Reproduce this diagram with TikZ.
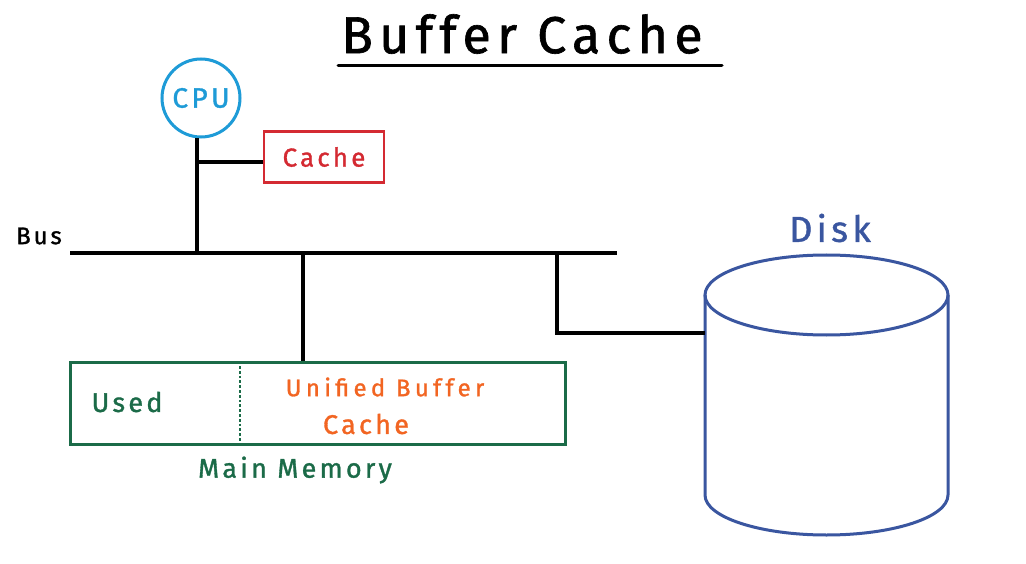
\documentclass[tikz,border=0pt]{standalone}
\usepackage{fontspec}
\setmainfont{Fira Sans}[LetterSpace=12,FakeBold=1.2]
\definecolor{cpublue}{HTML}{1E9BD7}
\definecolor{cachered}{HTML}{D42A32}
\definecolor{memgreen}{HTML}{1B6B48}
\definecolor{ubcorange}{HTML}{F26522}
\definecolor{diskblue}{HTML}{3A56A0}
\begin{document}
\begin{tikzpicture}[x=1pt,y=-1pt,
  wire/.style={line width=3.8pt,black},
  lbl/.style={inner sep=0pt,anchor=center}]
\useasboundingbox (0,0) rectangle (1026,564);
\fill[white] (0,0) rectangle (1026,564);
% title
\node[lbl,font=\fontsize{52}{52}\selectfont] (title) at (522,34) {Buffer Cache};
\coordinate (ul1) at (338,66);
\coordinate (ul2) at (722,66);
\draw[line width=3pt,line cap=round] (ul1) -- (ul2);
% CPU
\node[circle,draw=cpublue,line width=3pt,minimum size=78pt,inner sep=0pt,text=cpublue,font=\fontsize{28}{28}\selectfont] (cpu) at (201,98) {CPU};
% cache
\node[draw=cachered,line width=2.5pt,minimum width=120pt,minimum height=51pt,inner sep=0pt,text=cachered,font=\fontsize{26}{26}\selectfont] (cache) at (324,157) {Cache};
% bus
\node[lbl,font=\fontsize{24}{24}\selectfont,anchor=west] (buslbl) at (16,236) {Bus};
\coordinate (busL) at (70,253);
\coordinate (busR) at (617,253);
\draw[wire] (busL) -- (busR);
\coordinate (cpuBus) at (197,253);
\coordinate (cpuJ) at (197,162);
\draw[wire] (cpu.south -| cpuBus) -- (cpuBus);
\draw[wire] (cpuJ) -- (cpuJ -| cache.west);
% memory
\node[draw=memgreen,line width=3pt,minimum width=495pt,minimum height=82pt,inner sep=0pt] (mem) at (317.5,403) {};
\coordinate (memBus) at (303,253);
\draw[wire] (memBus) -- (memBus |- mem.north);
\coordinate (div1) at (240,366);
\coordinate (div2) at (240,441);
\draw[memgreen,line width=2.8pt,dotted] (div1) -- (div2);
\node[lbl,text=memgreen,font=\fontsize{27}{27}\selectfont] (used) at (127,402) {Used};
\node[lbl,text=ubcorange,font=\fontsize{24}{24}\selectfont\addfontfeatures{LetterSpace=18}] (ubc1) at (385,387) {Unified Buffer};
\node[lbl,text=ubcorange,font=\fontsize{27}{27}\selectfont] (ubc2) at (366,424) {Cache};
\node[lbl,text=memgreen,font=\fontsize{27}{27}\selectfont] (mainmem) at (295,470) {Main Memory};
% disk
\node[lbl,text=diskblue,font=\fontsize{36}{36}\selectfont] (disklbl) at (830,228) {Disk};
\begin{scope}[diskblue,line width=3pt]
\draw (826.5,295) ellipse [x radius=121.5pt, y radius=40pt];
\draw (705,295) -- (705,495) arc[start angle=180,end angle=360,x radius=121.5pt,y radius=40pt] -- (948,295);
\end{scope}
\coordinate (diskL) at (705,333);
\coordinate (diskBus) at (557,253);
\draw[wire] (diskBus) -- (diskBus |- diskL) -- (diskL);
\end{tikzpicture}
\end{document}
